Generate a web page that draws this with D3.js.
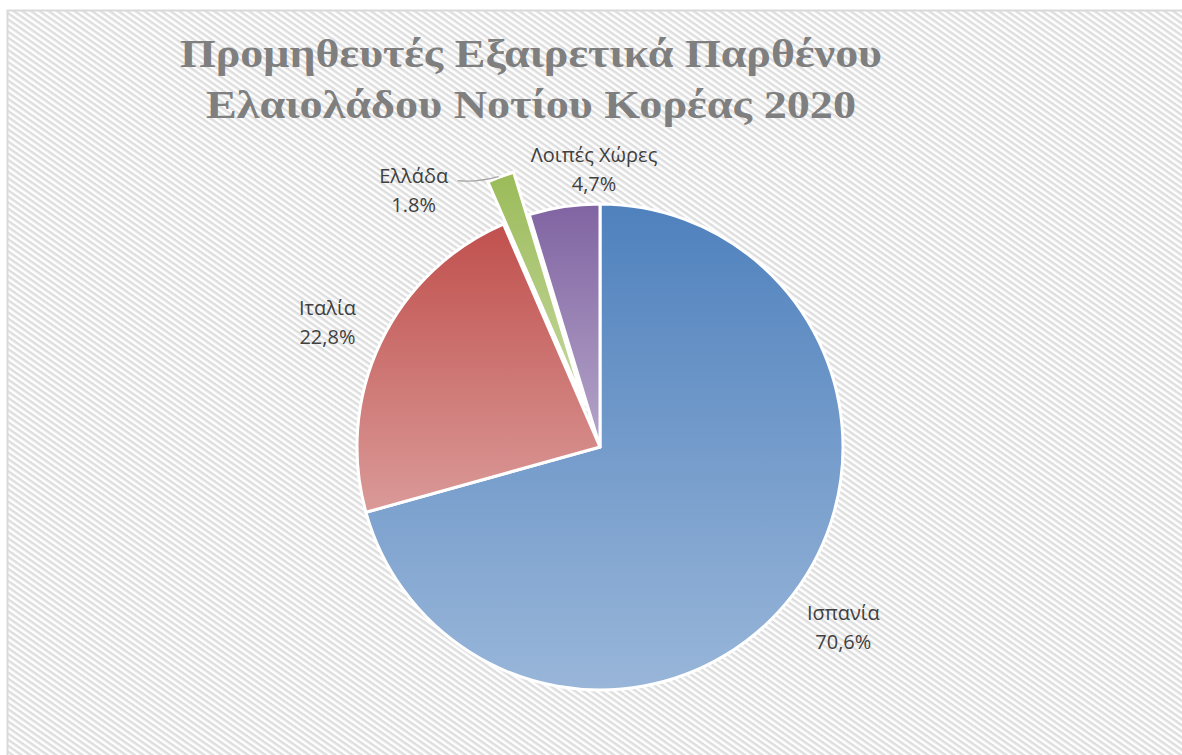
<!DOCTYPE html>
<html>
<head>
<meta charset="utf-8">
<script src="https://cdn.jsdelivr.net/npm/d3@7"></script>
<style>
  body { margin: 0; background: #fff; }
  svg { display: block; }
</style>
</head>
<body>
<svg width="1182" height="755"></svg>
<script>
// data
const countries = ["Ισπανία", "Ιταλία", "Ελλάδα", "Λοιπές Χώρες"];
const shares = [70.6, 22.8, 1.8, 4.7];
const shareLabels = ["70,6%", "22,8%", "1.8%", "4,7%"];
const colors = ["#4f81bd", "#c0504d", "#9bbb59", "#8064a2"];
const titleLines = ["Προμηθευτές Εξαιρετικά Παρθένου", "Ελαιολάδου Νοτίου Κορέας 2020"];

const svg = d3.select("svg");
const W = 1182, H = 755;
const cx = 600, cy = 447, R = 243;
const explode = [0, 0, 45, 0];

const defs = svg.append("defs");

// hatched background
const pat = defs.append("pattern")
  .attr("id", "hatch")
  .attr("patternUnits", "userSpaceOnUse")
  .attr("width", 10).attr("height", 5)
  .attr("patternTransform", "rotate(35)");
pat.append("rect").attr("width", 10).attr("height", 5).attr("fill", "#fff");
pat.append("rect").attr("width", 10).attr("height", 2.5).attr("fill", "#dedede");

svg.append("rect").attr("width", W).attr("height", H).attr("fill", "#fff");
svg.append("rect")
  .attr("x", 7.5).attr("y", 10.5)
  .attr("width", W + 10).attr("height", H + 10)
  .attr("fill", "url(#hatch)")
  .attr("stroke", "#d9d9d9").attr("stroke-width", 2);

// gradients per slice
colors.forEach((c, i) => {
  const g = defs.append("linearGradient")
    .attr("id", "grad" + i)
    .attr("x1", 0).attr("y1", 0).attr("x2", 0).attr("y2", 1);
  g.append("stop").attr("offset", "0%").attr("stop-color", c);
  g.append("stop").attr("offset", "100%").attr("stop-color", d3.interpolateRgb(c, "#fff")(0.42));
});

// title
svg.append("g").selectAll("text")
  .data(titleLines)
  .enter()
  .append("text")
  .attr("x", 531)
  .attr("y", (d, i) => 67 + i * 51)
  .attr("text-anchor", "middle")
  .attr("font-family", "'Liberation Serif', 'DejaVu Serif', serif")
  .attr("font-weight", "bold")
  .attr("font-size", 40)
  .attr("fill", "#7f7f7f")
  .attr("textLength", (d, i) => i === 0 ? 702 : 650)
  .attr("lengthAdjust", "spacingAndGlyphs")
  .text(d => d);

// pie
const pie = d3.pie().sort(null).value(d => d)(shares);
const arc = d3.arc().innerRadius(0).outerRadius(R);
const mid = d => (d.startAngle + d.endAngle) / 2;
const offset = (d, i, r) => [Math.sin(mid(d)) * r, -Math.cos(mid(d)) * r];

const plot = svg.append("g").attr("transform", `translate(${cx},${cy})`);

plot.selectAll(".slice")
  .data(pie)
  .enter()
  .append("path")
  .classed("slice", true)
  .attr("transform", (d, i) => {
    const o = offset(d, i, explode[i]);
    return `translate(${o[0]},${o[1]})`;
  })
  .attr("d", arc)
  .attr("fill", (d, i) => `url(#grad${i})`)
  .attr("stroke", "#fff")
  .attr("stroke-width", 3)
  .attr("stroke-linejoin", "round");

// labels
const labelR = [303, 302, 0, 285];
const nudge = [[2, -4], [0, 4], [0, 0], [36, 3]];
const labelPos = (d, i) => {
  if (i === 2) {
    // leader-lined label sits left of exploded slice
    const o = offset(d, i, explode[i] + R);
    return [o[0] - 87, o[1] + 12];
  }
  const o = offset(d, i, labelR[i]);
  return [o[0] + nudge[i][0], o[1] + nudge[i][1]];
};

// leader line for Greece
const gd = pie[2];
const tip = offset(gd, 2, explode[2] + R);
const lp = labelPos(gd, 2);
plot.append("path")
  .attr("d", `M${lp[0] + 44},${lp[1] - 8} Q${lp[0] + 62},${lp[1] - 6} ${tip[0] - 2},${tip[1]}`)
  .attr("fill", "none")
  .attr("stroke", "#a6a6a6")
  .attr("stroke-width", 1.3);

const labels = plot.selectAll(".lbl")
  .data(pie)
  .enter()
  .append("text")
  .classed("lbl", true)
  .attr("text-anchor", "middle")
  .attr("font-family", "'Open Sans', 'Noto Sans', sans-serif")
  .attr("font-size", 20)
  .attr("fill", "#404040")
  .attr("transform", (d, i) => {
    const p = labelPos(d, i);
    return `translate(${p[0]},${p[1]})`;
  });

labels.append("tspan")
  .attr("x", 0).attr("y", -6)
  .text((d, i) => countries[i]);
labels.append("tspan")
  .attr("x", 0).attr("y", 23)
  .text((d, i) => shareLabels[i]);
</script>
</body>
</html>
